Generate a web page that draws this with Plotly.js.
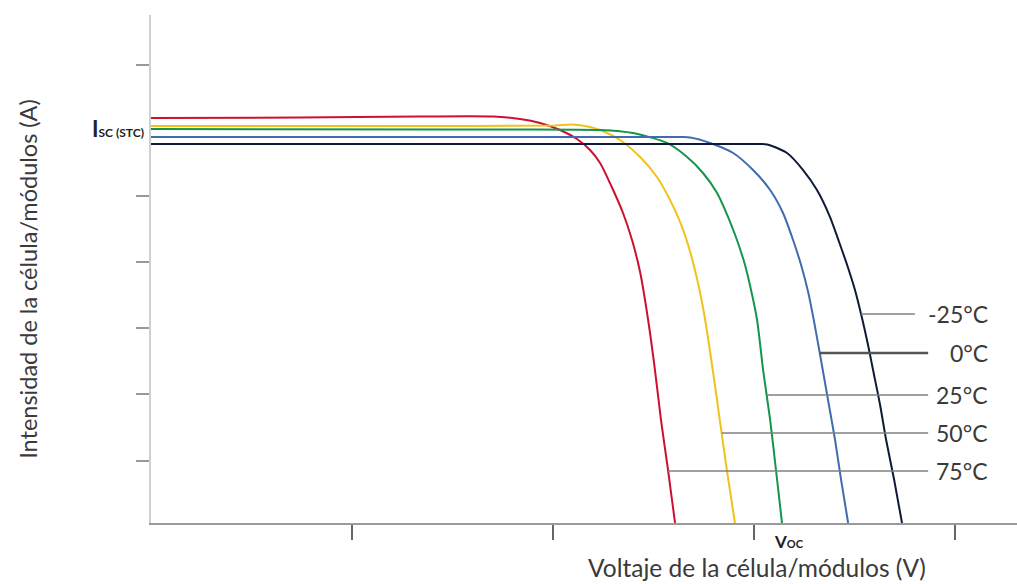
<!DOCTYPE html>
<html>
<head>
<meta charset="utf-8">
<script src="https://cdn.plot.ly/plotly-3.0.1.min.js"></script>
<style>html,body{margin:0;padding:0;background:#fff;}#chart{width:1017px;height:584px;}</style>
</head>
<body>
<div id="chart"></div>
<script>
// Temperatures (labels) and colours
const tempLabels = ["75°C", "50°C", "25°C", "0°C", "-25°C"];
const tempColors = ["#cc1130", "#f0c21a", "#14964a", "#3f6caf", "#0f1a38"];

// I-V curves (voltage, current in arbitrary units)
const volt75 = [0, 0.741, 1.338, 1.701, 1.836, 1.935, 2.035, 2.119, 2.184, 2.234, 2.299, 2.348, 2.393, 2.433, 2.473, 2.507, 2.537, 2.572, 2.607];
const curr75 = [6.136, 6.144, 6.159, 6.159, 6.121, 6.061, 5.955, 5.818, 5.652, 5.455, 5.045, 4.697, 4.288, 3.803, 3.076, 2.318, 1.561, 0.803, 0];

const volt50 = [0, 1.239, 2.010, 2.095, 2.184, 2.234, 2.333, 2.433, 2.517, 2.582, 2.632, 2.672, 2.706, 2.736, 2.761, 2.796, 2.831, 2.866, 2.905];
const curr50 = [6.015, 6.015, 6.023, 6.038, 6.000, 5.955, 5.803, 5.545, 5.242, 4.894, 4.561, 4.212, 3.833, 3.424, 3.000, 2.288, 1.530, 0.773, 0];

const volt25 = [0, 1.488, 2.234, 2.398, 2.567, 2.667, 2.746, 2.816, 2.871, 2.915, 2.955, 2.985, 3.015, 3.045, 3.080, 3.109, 3.139];
const curr25 = [5.970, 5.962, 5.955, 5.909, 5.758, 5.545, 5.303, 5.000, 4.636, 4.288, 3.909, 3.530, 3.076, 2.318, 1.561, 0.803, 0];

const volt0 = [0, 1.736, 2.647, 2.682, 2.781, 2.896, 2.995, 3.080, 3.144, 3.194, 3.234, 3.269, 3.299, 3.333, 3.368, 3.403, 3.433, 3.468];
const curr0 = [5.848, 5.848, 5.848, 5.841, 5.758, 5.606, 5.348, 5.045, 4.697, 4.288, 3.909, 3.500, 3.045, 2.470, 1.864, 1.258, 0.652, 0];

const voltM25 = [0, 2.234, 2.995, 3.065, 3.164, 3.244, 3.313, 3.378, 3.423, 3.463, 3.502, 3.537, 3.567, 3.597, 3.627, 3.657, 3.697, 3.736];
const currM25 = [5.742, 5.742, 5.742, 5.735, 5.606, 5.348, 5.045, 4.636, 4.258, 3.909, 3.530, 3.106, 2.697, 2.242, 1.788, 1.258, 0.652, 0];

// Current levels where each temperature's leader line meets its curve
const labelLevels = [0.788, 1.364, 1.939, 2.576, 3.167];

// Axis ticks (no numbers shown)
const xTickVals = [1, 2, 3, 4];
const yTickVals = [0.94, 1.95, 2.95, 3.95, 4.95, 6.94];

const curves = [[volt75, curr75], [volt50, curr50], [volt25, curr25], [volt0, curr0], [voltM25, currM25]];

const FONT = "Lato, 'Open Sans', sans-serif";
const TXT = '#3a3a3a';

const traces = curves.map((c, i) => ({
  x: c[0], y: c[1], type: 'scatter', mode: 'lines',
  line: {color: tempColors[i], width: 2, shape: 'spline', smoothing: 0.7},
  hoverinfo: 'skip', name: tempLabels[i]
}));

function crossX(xs, ys, level) {
  for (let k = xs.length - 1; k > 0; k--) {
    const y1 = ys[k - 1], y2 = ys[k];
    if ((y1 - level) * (y2 - level) <= 0 && y1 !== y2) {
      return xs[k - 1] + (level - y1) * (xs[k] - xs[k - 1]) / (y2 - y1);
    }
  }
  return xs[xs.length - 1];
}

const shapes = [];
const annotations = [];
curves.forEach((c, i) => {
  const lvl = labelLevels[i];
  const x0 = crossX(c[0], c[1], lvl);
  const isZero = tempLabels[i] === "0°C";
  const x1 = tempLabels[i] === "-25°C" ? 3.80 : 3.866;
  shapes.push({type: 'line', xref: 'x', yref: 'y', x0: x0, x1: x1, y0: lvl, y1: lvl,
    line: {color: isZero ? '#555' : '#808080', width: isZero ? 2.5 : 1.5}});
  annotations.push({xref: 'x', yref: 'y', x: 4.174, y: lvl, text: tempLabels[i],
    showarrow: false, xanchor: 'right', yanchor: 'middle',
    font: {family: FONT, size: 23, color: TXT}});
});

// Isc (STC) label at the 25°C short-circuit current
annotations.push({xref: 'paper', yref: 'y', x: 0, y: curr25[0], xshift: -5,
  text: '<b><span style="font-size:22px">I</span><span style="font-size:12px">SC (STC)</span></b>',
  showarrow: false, xanchor: 'right', yanchor: 'middle',
  font: {family: FONT, size: 12, color: '#222'}});

// Voc label at the 25°C open-circuit voltage
annotations.push({xref: 'x', yref: 'paper', x: volt25[volt25.length - 1], y: 0, xshift: 7, yshift: -6,
  text: '<b><span style="font-size:17px">V</span><span style="font-size:11px">OC</span></b>',
  showarrow: false, xanchor: 'center', yanchor: 'top',
  font: {family: FONT, size: 12, color: '#222'}});

// Axis titles
annotations.push({xref: 'x', yref: 'paper', x: 3.015, y: 0, yshift: -28,
  text: 'Voltaje de la célula/módulos (V)', showarrow: false, xanchor: 'center', yanchor: 'top',
  font: {family: FONT, size: 24.5, color: TXT}});
annotations.push({xref: 'paper', yref: 'y', x: 0, xshift: -123, y: 3.70,
  text: 'Intensidad de la célula/módulos (A)', showarrow: false, textangle: -90,
  xanchor: 'center', yanchor: 'middle',
  font: {family: FONT, size: 23.5, color: TXT}});

const layout = {
  width: 1017, height: 584,
  margin: {l: 151, r: 0, t: 15, b: 61},
  paper_bgcolor: '#fff', plot_bgcolor: '#fff',
  showlegend: false,
  xaxis: {range: [0, 4.308], showgrid: false, zeroline: false, showline: true,
    linecolor: '#9a9a9a', linewidth: 2, ticks: 'outside', ticklen: 15, tickwidth: 2,
    tickcolor: '#666', tickvals: xTickVals, showticklabels: false, fixedrange: true},
  yaxis: {range: [0, 7.697], showgrid: false, zeroline: false, showline: true,
    linecolor: '#cfcfcf', linewidth: 2, ticks: 'outside', ticklen: 13, tickwidth: 2,
    tickcolor: '#999', tickvals: yTickVals, showticklabels: false, fixedrange: true},
  shapes: shapes,
  annotations: annotations
};

Plotly.newPlot('chart', traces, layout, {displayModeBar: false, staticPlot: true});
</script>
</body>
</html>
